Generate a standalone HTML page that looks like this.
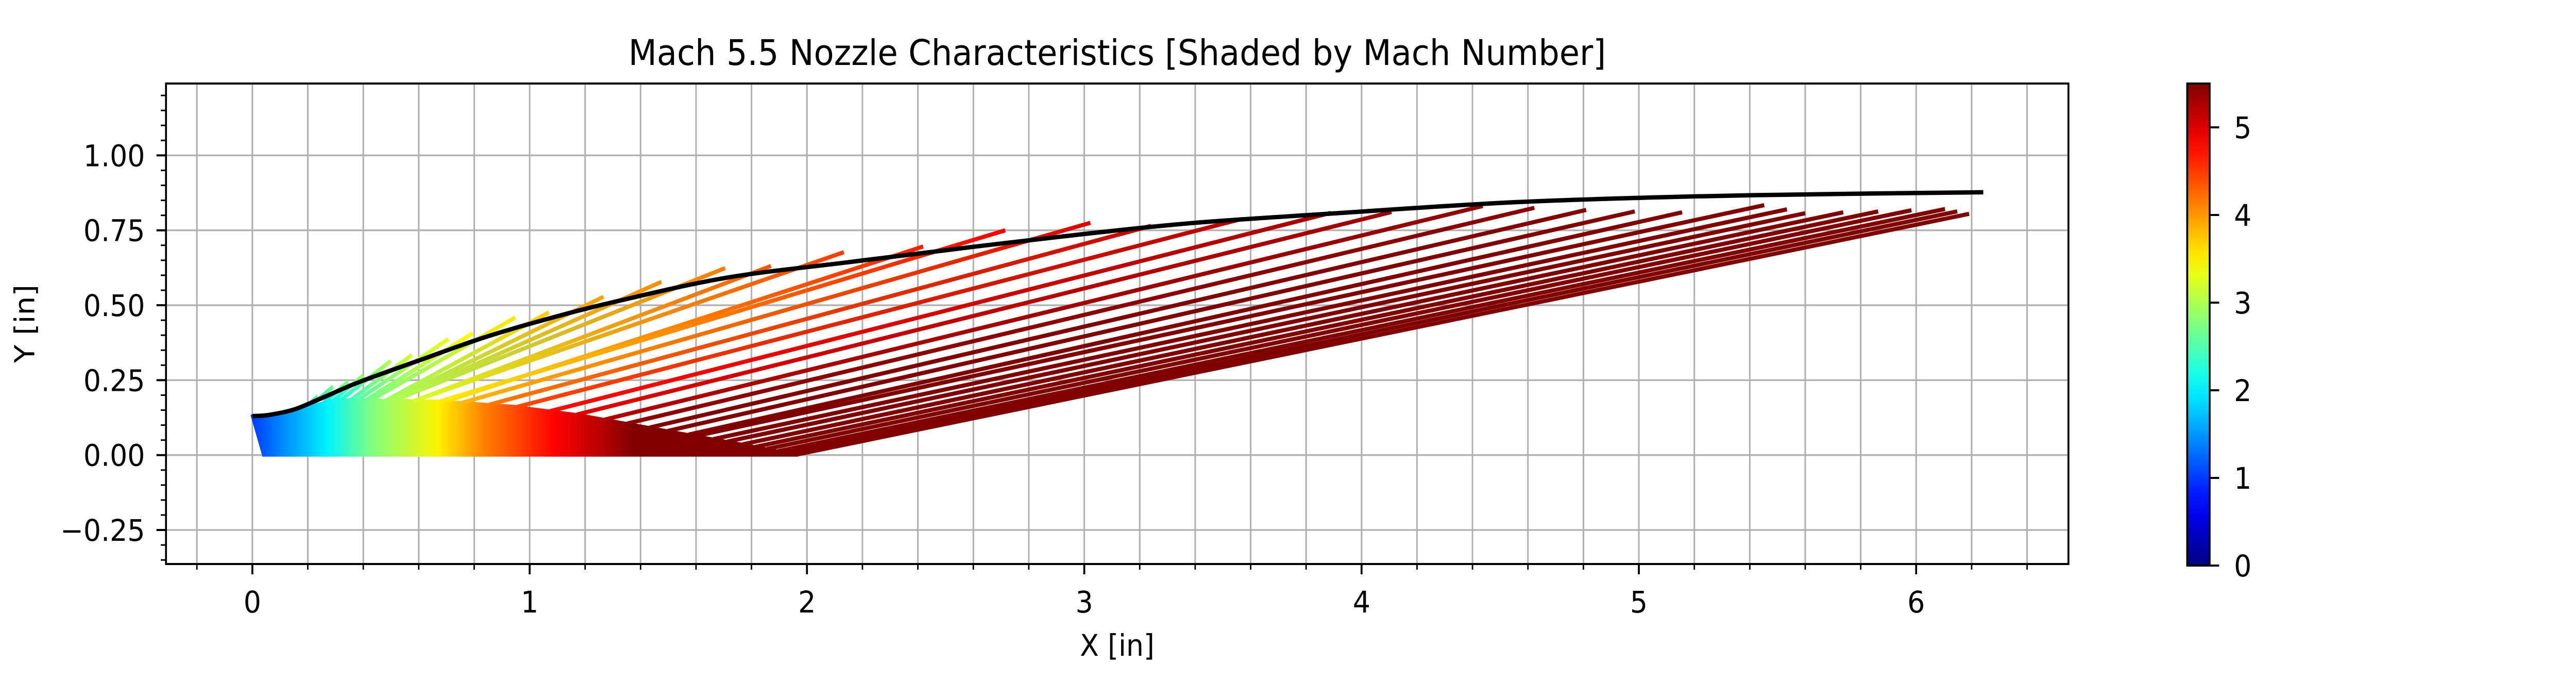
<!DOCTYPE html>
<html><head><meta charset="utf-8"><style>
html,body{margin:0;padding:0;background:#fff;overflow:hidden;width:100%;height:100%;}
svg{display:block;width:100vw;height:100vh;font-family:"DejaVu Sans","Liberation Sans",sans-serif;}
</style></head><body>
<svg id="chart" xmlns="http://www.w3.org/2000/svg" viewBox="0 0 5400 1350" preserveAspectRatio="none">
<rect width="5400" height="1350" fill="#fff"/>
<defs id="defs"><clipPath id="plotclip"><rect x="348" y="162" width="3988" height="932"/></clipPath></defs>
<g id="grid"></g>
<g id="plot" clip-path="url(#plotclip)"></g>
<rect x="348" y="162" width="3988" height="932" fill="none" stroke="#000" stroke-width="4"/>
<g id="ticks"></g>
<text x="2342" y="126" font-size="69" text-anchor="middle">Mach 5.5 Nozzle Characteristics [Shaded by Mach Number]</text>
<text x="2342" y="1272" font-size="58" text-anchor="middle">X [in]</text>
<text x="0" y="0" font-size="58" text-anchor="middle" transform="translate(72,628) rotate(-90)">Y [in]</text>
<g id="cbar"></g>
</svg>
<script>
// ---- data ----
const wallX = [0,0.06,0.15,0.25,0.389,0.608,0.828,1.047,1.3,1.705,2.144,2.583,3.022,3.4,3.877,4.535,5.194,5.852,6.242];
const wallY = [0.13,0.134,0.152,0.19,0.245,0.318,0.39,0.45,0.51,0.591,0.643,0.693,0.74,0.775,0.805,0.843,0.863,0.873,0.877];
const kernelX = [0,0.1,0.2,0.301,0.674,0.938,1.179,1.376,1.574,1.772,1.968];
const kernelY = [0.13,0.138,0.16,0.185,0.18,0.163,0.134,0.101,0.068,0.035,0.0];
const axisStartX = [0.04,0.0];
const machStopX = [0,0.1,0.27,0.43,0.67,0.83,1.09,1.38];
const machStopVal = [1.0,1.4,2.0,2.75,3.5,4.1,4.8,5.5];
const tipX = [0.236,0.291,0.346,0.399,0.499,0.575,0.707,0.795,0.948,1.069,1.266,1.475,1.705,1.870,2.133,2.419,2.715,3.022,3.241,3.559,3.888,4.108,4.437,4.623,4.810,4.985,5.156,5.452,5.534,5.600,5.737,5.863,5.983,6.104,6.148,6.191];
const tipY = [0.196,0.229,0.245,0.265,0.314,0.334,0.387,0.407,0.459,0.476,0.528,0.578,0.624,0.631,0.677,0.696,0.750,0.775,0.765,0.786,0.808,0.811,0.831,0.825,0.818,0.813,0.810,0.834,0.820,0.807,0.810,0.813,0.817,0.821,0.813,0.805];
const charSlope = [0.85,0.82,0.8,0.77,0.72,0.68,0.62,0.58,0.53,0.5,0.45,0.41,0.37,0.35,0.32,0.3,0.28,0.265,0.25,0.24,0.235,0.23,0.225,0.22,0.215,0.21,0.207,0.2,0.198,0.196,0.195,0.194,0.193,0.192,0.191,0.19];
const tipMach = [2.6,2.7,2.8,2.9,3.05,3.2,3.35,3.45,3.55,3.7,3.95,4.05,4.15,4.35,4.5,4.65,4.85,5.0,5.1,5.2,5.3,5.35,5.4,5.45,5.5,5.5,5.5,5.5,5.5,5.5,5.5,5.5,5.5,5.5,5.5,5.5];
const xTickLabels = ["0","1","2","3","4","5","6"];
const yTickLabels = ["\u22120.25","0.00","0.25","0.50","0.75","1.00"];
const cbarTickLabels = ["0","1","2","3","4","5"];

// ---- scales ----
const X0 = 529, Y0 = 882.7, S = 581.3;
const px = x => X0 + x * S;
const py = y => Y0 - y * S;
const NS = "http://www.w3.org/2000/svg";
function mk(tag, attrs, parent){ const e=document.createElementNS(NS,tag); for(const k in attrs) e.setAttribute(k,attrs[k]); parent.appendChild(e); return e; }
function jet(v){
  const c = t => Math.max(0, Math.min(1, t));
  const r = c(1.5 - Math.abs(4*v - 3)), g = c(1.5 - Math.abs(4*v - 2)), b = c(1.5 - Math.abs(4*v - 1));
  return `rgb(${Math.round(r*255)},${Math.round(g*255)},${Math.round(b*255)})`;
}
const machColor = m => jet(m / 5.5);
function interp(xs, ys, x){
  if (x <= xs[0]) return ys[0];
  for (let i=1;i<xs.length;i++) if (x <= xs[i]) { const t=(x-xs[i-1])/(xs[i]-xs[i-1]); return ys[i-1]+t*(ys[i]-ys[i-1]); }
  return ys[ys.length-1];
}
function smoothPath(P){
  let d = `M${P[0][0]},${P[0][1]}`;
  for (let i=0;i<P.length-1;i++){
    const p0=P[Math.max(0,i-1)], p1=P[i], p2=P[i+1], p3=P[Math.min(P.length-1,i+2)];
    const c1=[p1[0]+(p2[0]-p0[0])/6, p1[1]+(p2[1]-p0[1])/6];
    const c2=[p2[0]-(p3[0]-p1[0])/6, p2[1]-(p3[1]-p1[1])/6];
    d += ` C${c1[0]},${c1[1]} ${c2[0]},${c2[1]} ${p2[0]},${p2[1]}`;
  }
  return d;
}
const grid = document.getElementById('grid');
const plot = document.getElementById('plot');
const ticks = document.getElementById('ticks');
const defs = document.getElementById('defs');

for (let k=-1;k<=32;k++){ const x=k*0.2; const X=px(x); if (X<348||X>4336) continue;
  const l = mk('line',{x1:X,y1:162,x2:X,y2:1094,stroke:'#b0b0b0','stroke-width':3.3},grid);
    }
for (let k=-1;k<=4;k++){ const Y=py(k*0.25);
  const l = mk('line',{x1:348,y1:Y,x2:4336,y2:Y,stroke:'#b0b0b0','stroke-width':3.3},grid);
    }

const kg = mk('linearGradient',{id:'kgrad',gradientUnits:'userSpaceOnUse',x1:px(0),y1:0,x2:px(machStopX[machStopX.length-1]),y2:0},defs);
const span = machStopX[machStopX.length-1];
machStopX.forEach((x,i)=>{ mk('stop',{offset:(x/span),'stop-color':machColor(machStopVal[i])},kg); });
let pts = kernelX.map((x,i)=>`${px(x)},${py(kernelY[i])}`);
pts.push(`${px(axisStartX[0])},${py(0)}`);
const fill = mk('polygon',{points:pts.join(' '),fill:'url(#kgrad)',stroke:'url(#kgrad)','stroke-width':6},plot);
 

const KX = kernelX.concat([20]), KY = kernelY.concat([0]);
function kernelHit(tx, ty, s){
  const f = x => (ty - s*(tx - x)) - interp(KX, KY, x);
  const step = 0.01; let x = tx;
  while (x > 0 && f(x) > 0) x -= step;
  let lo = Math.max(0, x), hi = Math.min(tx, x + step);
  for (let i=0;i<30;i++){ const m=(lo+hi)/2; if (f(m)>0) hi=m; else lo=m; }
  return hi;
}
tipX.forEach((tx,i)=>{
  const ty = tipY[i], s = charSlope[i];
  const kx = kernelHit(tx, ty, s);
  const ky = ty - s*(tx - kx);
  const gid = 'cg'+i;
  const g = mk('linearGradient',{id:gid,gradientUnits:'userSpaceOnUse',x1:px(kx),y1:py(ky),x2:px(tx),y2:py(ty)},defs);
  mk('stop',{offset:0,'stop-color':machColor(Math.min(tipMach[i], interp(machStopX,machStopVal,kx)))},g);
  mk('stop',{offset:1,'stop-color':machColor(tipMach[i])},g);
  const l = mk('line',{x1:px(kx),y1:py(ky),x2:px(tx),y2:py(ty),stroke:`url(#${gid})`,'stroke-width':8},plot);
  
  
});

const wall = mk('path',{d:smoothPath(wallX.map((x,i)=>[px(x),py(wallY[i])])),fill:'none',stroke:'#000','stroke-width':8.5},plot);



for (let k=-1;k<=32;k++){ const x=k*0.2; const X=px(x); if (X<348||X>4336) continue;
  const major = (k%5===0);
  const t = mk('line',{x1:X,y1:1094,x2:X,y2:1094+(major?20:11),stroke:'#000','stroke-width':major?4:3},ticks);
    }
xTickLabels.forEach((lab,i)=>{
  const t = mk('text',{x:px(i),y:1188,'font-size':58,'text-anchor':'middle'},ticks); t.textContent=lab;
    });
for (let k=-7;k<=24;k++){ const y=k*0.05; const Y=py(y); if (Y<162||Y>1094) continue;
  const major = (k%5===0);
  const t = mk('line',{x1:348-(major?20:11),y1:Y,x2:348,y2:Y,stroke:'#000','stroke-width':major?4:3},ticks);
    }
yTickLabels.forEach((lab,i)=>{
  const t = mk('text',{x:304,y:py(-0.25+i*0.25)+21,'font-size':58,'text-anchor':'end'},ticks); t.textContent=lab;
    });

const cbar = document.getElementById('cbar');
const CB = {x:4585, w:47, top:162, bot:1097};
const cg = mk('linearGradient',{id:'cbgrad',x1:0,y1:1,x2:0,y2:0},defs);
for (let i=0;i<=20;i++) mk('stop',{offset:i/20,'stop-color':jet(i/20)},cg);
const cr = mk('rect',{x:CB.x,y:CB.top,width:CB.w,height:CB.bot-CB.top,fill:'url(#cbgrad)',stroke:'#000','stroke-width':4},cbar);
 
cbarTickLabels.forEach((lab,i)=>{
  const Y = CB.bot - (i/5.5)*(CB.bot-CB.top);
  const t = mk('line',{x1:CB.x+CB.w,y1:Y,x2:CB.x+CB.w+20,y2:Y,stroke:'#000','stroke-width':4},cbar);
   
  const tx = mk('text',{x:4683,y:Y+21,'font-size':58},cbar); tx.textContent=lab;
   
});
</script>
</body></html>
